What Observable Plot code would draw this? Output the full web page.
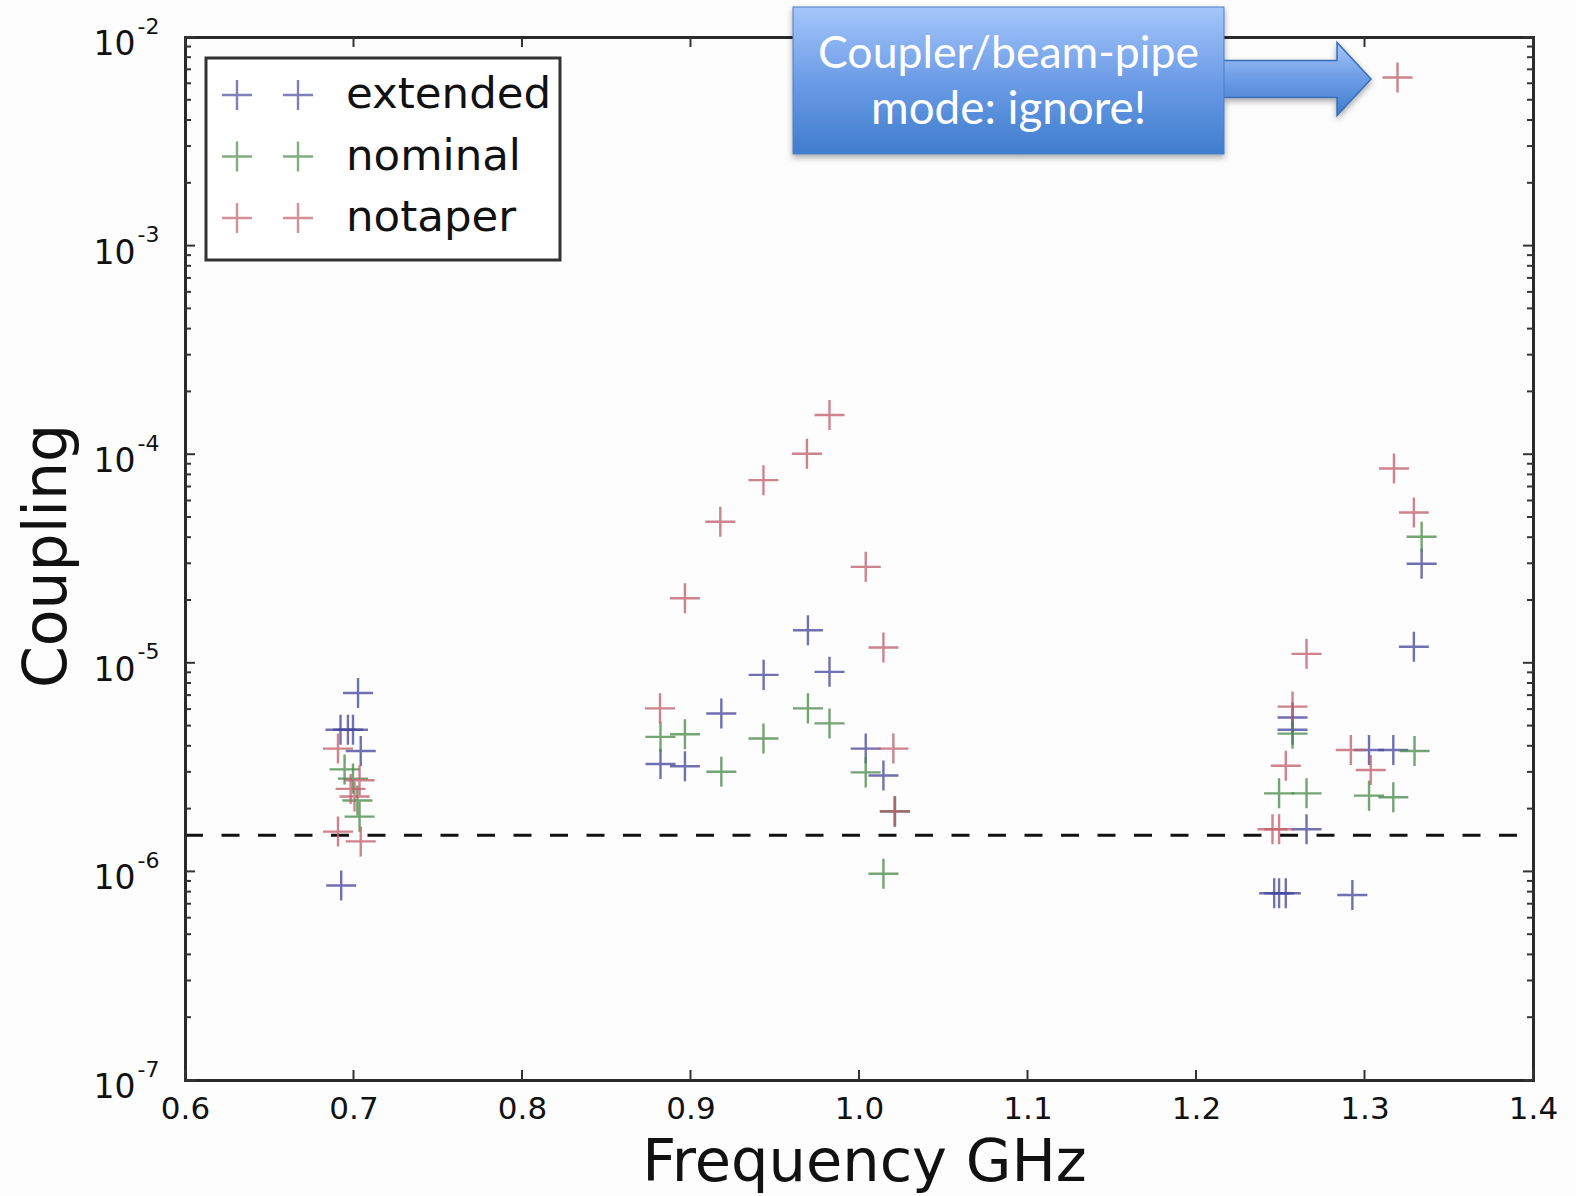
<!DOCTYPE html>
<html><head><meta charset="utf-8">
<script src="https://cdn.jsdelivr.net/npm/d3@7"></script>
<script src="https://cdn.jsdelivr.net/npm/@observablehq/plot@0.6"></script>
<style>body{margin:0;background:#fdfdfd;} svg{display:block;}</style>
</head><body><div id="chart"></div>
<script>
// ---- data ----
const extFreq = [0.7024,0.692,0.6964,0.6994,0.704,0.6924,
  0.8819,0.8964,0.918,0.9431,0.9694,0.9822,1.0037,1.0142,1.021,
  1.2461,1.249,1.253,1.2925,1.2653,1.257,1.257,1.3024,1.3168,1.329,1.3336];
const extCoupling = [7.2e-6,4.8e-6,4.8e-6,4.8e-6,3.8e-6,8.6e-7,
  3.29e-6,3.21e-6,5.75e-6,8.8e-6,1.44e-5,9.1e-6,3.9e-6,2.9e-6,1.95e-6,
  7.9e-7,7.9e-7,7.9e-7,7.75e-7,1.6e-6,4.8e-6,5.5e-6,3.84e-6,3.84e-6,1.2e-5,3.0e-5];

const nomFreq = [0.6944,0.6994,0.7033,0.702,
  0.8819,0.8964,0.918,0.943,0.9694,0.9822,1.0037,1.0142,1.021,
  1.249,1.2653,1.3024,1.3168,1.3294,1.257,1.3336];
const nomCoupling = [3.1e-6,2.8e-6,1.84e-6,2.2e-6,
  4.44e-6,4.57e-6,3.02e-6,4.36e-6,6.08e-6,5.15e-6,3.0e-6,9.8e-7,1.95e-6,
  2.38e-6,2.38e-6,2.32e-6,2.28e-6,3.8e-6,4.6e-6,4.04e-5];

const notFreq = [0.6905,0.7033,0.7003,0.698,0.6905,0.704,
  0.8816,0.8964,0.9174,0.943,0.9688,0.9822,1.0037,1.0142,1.0201,1.021,
  1.2653,1.257,1.253,1.2451,1.249,1.2916,1.3034,1.3172,1.329,1.3193];
const notCoupling = [3.9e-6,2.75e-6,2.3e-6,2.5e-6,1.56e-6,1.4e-6,
  6.08e-6,2.05e-5,4.77e-5,7.55e-5,1.01e-4,1.55e-4,2.9e-5,1.19e-5,3.9e-6,1.95e-6,
  1.11e-5,6.2e-6,3.23e-6,1.6e-6,1.6e-6,3.84e-6,3.08e-6,8.58e-5,5.28e-5,6.43e-3];

const seriesNames = ["extended","nominal","notaper"];
const seriesColors = ["#48489c","#4c8c4c","#c2606e"];
const xTicks = [0.6,0.7,0.8,0.9,1.0,1.1,1.2,1.3,1.4];
const yTicks = [1e-7,1e-6,1e-5,1e-4,1e-3,1e-2];
const threshold = 1.5e-6;
const annotationLines = ["Coupler/beam-pipe","mode: ignore!"];
const annotatedPoint = {f: 1.3193, c: 6.43e-3};

// ---- build table ----
const data = [
  ...extFreq.map((f,i)=>({series:"extended", f, c:extCoupling[i]})),
  ...nomFreq.map((f,i)=>({series:"nominal", f, c:nomCoupling[i]})),
  ...notFreq.map((f,i)=>({series:"notaper", f, c:notCoupling[i]}))
];

const plusSymbol = {draw(ctx, size){
  const a = Math.sqrt(size/Math.PI)*0.79;
  ctx.moveTo(-a,0); ctx.lineTo(a,0); ctx.moveTo(0,-a); ctx.lineTo(0,a);
}};

const plot = Plot.plot({
  width:1576, height:1196,
  marginLeft:185, marginRight:43, marginTop:37, marginBottom:116,
  style:{background:"#fdfdfd", fontFamily:"'DejaVu Sans', sans-serif", color:"#111"},
  x:{domain:[0.6,1.4], axis:null},
  y:{type:"log", domain:[1e-7,1e-2], axis:null},
  color:{domain:seriesNames, range:seriesColors},
  marks:[
    Plot.ruleY([threshold], {stroke:"#111", strokeWidth:3, strokeDasharray:"18,18.5"}),
    Plot.dot(data, {x:"f", y:"c", stroke:"series", symbol:plusSymbol, r:19, strokeWidth:2.4, strokeOpacity:0.78, fill:"none"}),
    Plot.frame({stroke:"#2a2a2a", strokeWidth:3}),
    Plot.text(xTicks, {x:d=>d, frameAnchor:"bottom", lineAnchor:"bottom", dy:38, text:d=>d.toFixed(1), fontSize:31}),
    Plot.text(yTicks, {y:d=>d, frameAnchor:"left", lineAnchor:"bottom", textAnchor:"end", dx:-50, dy:17.5, text:()=>"10", fontSize:33}),
    Plot.text(yTicks, {y:d=>d, frameAnchor:"left", lineAnchor:"bottom", textAnchor:"start", dx:-48, dy:-4, text:d=>String(Math.round(Math.log10(d))), fontSize:22}),
    Plot.text(["Frequency GHz"], {frameAnchor:"bottom", lineAnchor:"bottom", textAnchor:"middle", dy:100, dx:5, fontSize:59}),
    Plot.text(["Coupling"], {frameAnchor:"left", rotate:-90, lineAnchor:"bottom", textAnchor:"middle", dx:-120, dy:-3, fontSize:60})
  ]
});
document.getElementById("chart").appendChild(plot);

// ---- inward ticks (matplotlib style), from the plot's scales ----
const sx = plot.scale("x"), sy = plot.scale("y");
const [L, R] = sx.range, [B, T] = sy.range;
const svg = d3.select(plot);
const tg = svg.append("g").attr("stroke","#333").attr("stroke-width",2);
for (const v of xTicks) {
  const px = sx.apply(v);
  tg.append("line").attr("x1",px).attr("x2",px).attr("y1",B).attr("y2",B-10);
  tg.append("line").attr("x1",px).attr("x2",px).attr("y1",T).attr("y2",T+10);
}
for (let k=-7; k<=-2; k++) {
  for (let m=1; m<=9; m++) {
    const v = m*Math.pow(10,k);
    if (v > 1e-2*1.0001) break;
    const py = sy.apply(v);
    const len = m===1 ? 10 : 6;
    tg.append("line").attr("x1",L).attr("x2",L+len).attr("y1",py).attr("y2",py);
    tg.append("line").attr("x1",R).attr("x2",R-len).attr("y1",py).attr("y2",py);
  }
}

// ---- legend (matplotlib style, inside axes) ----
const lg = svg.append("g");
lg.append("rect").attr("x",206).attr("y",58).attr("width",354).attr("height",202)
  .attr("fill","#ffffff").attr("stroke","#333").attr("stroke-width",3);
const sym = d3.symbol().type(plusSymbol).size(Math.PI*19*19);
seriesNames.forEach((name,i)=>{
  const cy = 95 + i*61.5;
  [237,298].forEach(cx=>{
    lg.append("path").attr("d",sym()).attr("transform",`translate(${cx},${cy})`)
      .attr("fill","none").attr("stroke",seriesColors[i]).attr("stroke-width",2.4).attr("stroke-opacity",0.7);
  });
  lg.append("text").attr("x",346).attr("y",cy+13).attr("font-size",43.5)
    .attr("text-anchor","start")
    .attr("font-family","'DejaVu Sans', sans-serif").attr("fill","#111").text(name);
});

// ---- callout annotation ----
const defs = svg.append("defs");
const grad = defs.append("linearGradient").attr("id","calloutGrad").attr("x1",0).attr("y1",0).attr("x2",0).attr("y2",1);
grad.append("stop").attr("offset","0").attr("stop-color","#a5c6fb");
grad.append("stop").attr("offset","0.5").attr("stop-color","#6c9ce6");
grad.append("stop").attr("offset","1").attr("stop-color","#3f7dcd");
const flt = defs.append("filter").attr("id","calloutShadow").attr("x","-10%").attr("y","-10%").attr("width","130%").attr("height","140%");
flt.append("feDropShadow").attr("dx",0).attr("dy",3).attr("stdDeviation",3).attr("flood-color","#000").attr("flood-opacity",0.35);

const tipX = sx.apply(annotatedPoint.f) - 26;
const cyA = sy.apply(annotatedPoint.c) + 2;
const boxX = 793, boxY = 7, boxW = 431, boxH = 147;
const ag = svg.append("g").attr("filter","url(#calloutShadow)");
const headBase = tipX - 34;
ag.append("path")
  .attr("d",`M${boxX+boxW-2},${cyA-18.5} L${headBase},${cyA-18.5} L${headBase},${cyA-36.5} L${tipX},${cyA} L${headBase},${cyA+36.5} L${headBase},${cyA+18.5} L${boxX+boxW-2},${cyA+18.5} Z`)
  .attr("fill","url(#calloutGrad)").attr("stroke","#3a6db5").attr("stroke-width",1.5);
ag.append("rect").attr("x",boxX).attr("y",boxY).attr("width",boxW).attr("height",boxH)
  .attr("fill","url(#calloutGrad)").attr("stroke","#4a7ec0").attr("stroke-width",1);
const targetW = [381, 275];
annotationLines.forEach((t,i)=>{
  const el = svg.append("text").attr("x",boxX+boxW/2).attr("y", i===0 ? 68 : 124)
    .attr("text-anchor","middle").attr("font-family","Lato, 'Open Sans', sans-serif")
    .attr("font-size",40).attr("fill","#ffffff").text(t);
  const w = el.node().getComputedTextLength();
  if (w > 0) el.attr("font-size", 40*targetW[i]/w);
});
</script>
</body></html>
